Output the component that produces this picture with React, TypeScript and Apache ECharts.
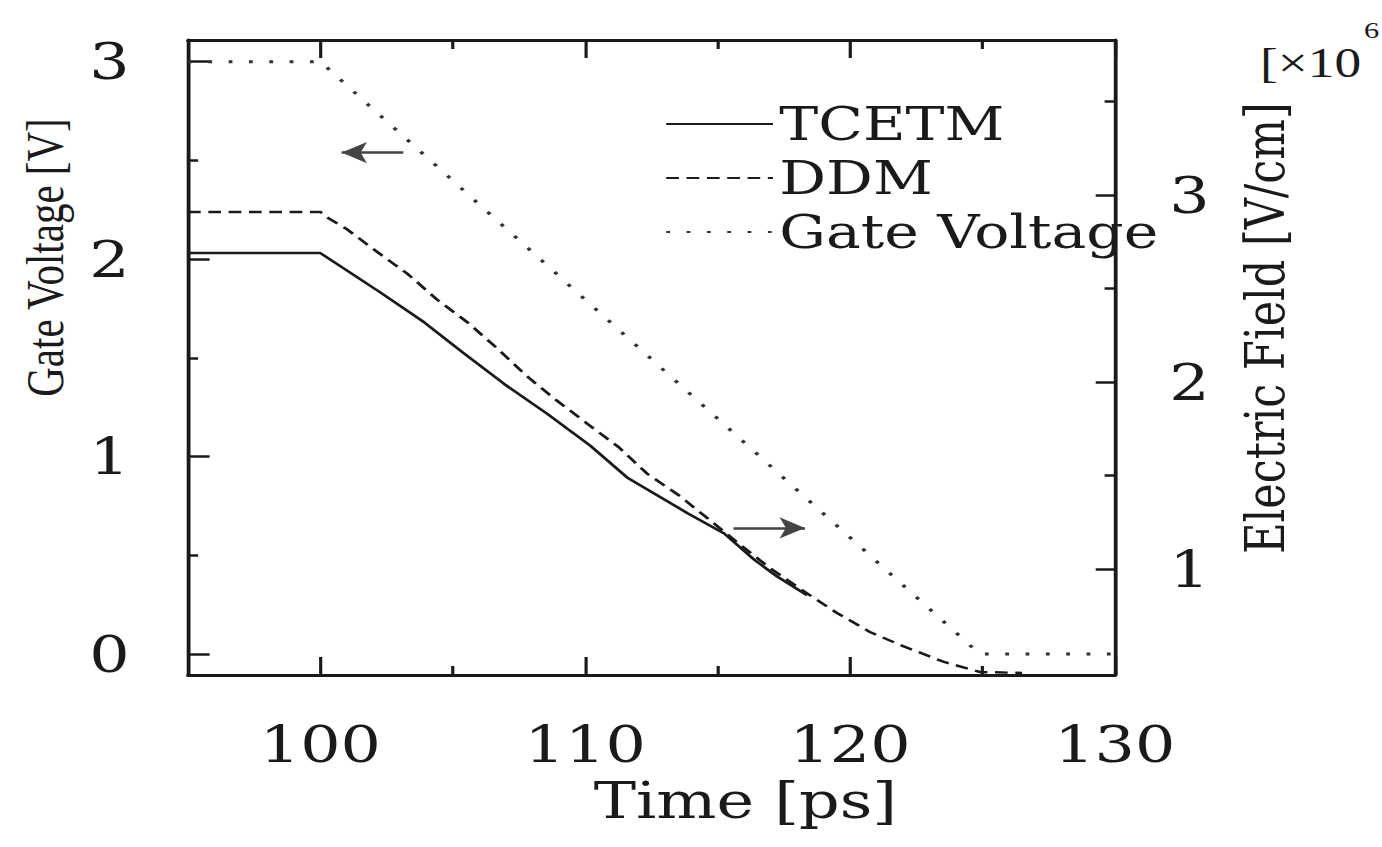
import React, { useEffect, useRef } from "react";
import * as echarts from "echarts";

// The scanned original is stretched horizontally; the whole chart is drawn
// narrower and widened with a CSS scaleX so glyph proportions match.
const STRETCH = 1.27;
const PAGE_W = 1382;
const PAGE_H = 847;

// ---- tick values / labels ----
const timeTicksMajor = [100, 110, 120, 130];
const timeTicksMinor = [105, 115, 125];
const voltTicksMajor = [0, 1, 2, 3];
const voltTicksMinor = [0.5, 1.5, 2.5];
const fieldTicksMajor = [1, 2, 3];
const fieldTicksMinor = [1.5, 2.5, 3.5];

// ---- series (time in ps) ----
const tcetmTime = [95, 100, 102.26, 103.92, 105.36, 106.94, 108.57, 110.19, 111.58, 113.85, 115.25, 116.38, 117.25, 118.38];
const tcetmField = [2.69, 2.69, 2.48, 2.32, 2.16, 1.99, 1.83, 1.66, 1.49, 1.3, 1.19, 1.05, 0.96, 0.86];

const ddmTime = [95, 100, 100.26, 100.98, 102.11, 103.28, 104.42, 105.55, 106.68, 107.81, 108.94, 110.15, 111.28, 112.34, 113.58, 114.72, 115.85, 116.98, 118.3, 119.51, 120.75, 122.08, 123.55, 124.91, 126.5];
const ddmField = [2.91, 2.91, 2.88, 2.82, 2.7, 2.58, 2.44, 2.32, 2.18, 2.03, 1.9, 1.77, 1.65, 1.51, 1.39, 1.26, 1.13, 1.005, 0.877, 0.765, 0.663, 0.583, 0.503, 0.449, 0.444];

const gateTime = [95, 100, 124.9, 130];
const gateVoltage = [3, 3, 0, 0];

// arrows: [time, value] start -> end
const leftArrow = [[103.13, 2.54], [100.8, 2.54]];
const rightArrow = [[115.6, 1.22], [118.3, 1.22]];

const zip = (xs: number[], ys: number[]) => xs.map((x, i) => [x, ys[i]]);

const FONT = "DejaVu Serif";
const INK = "#1a1a1a";

export default function App() {
  const ref = useRef<HTMLDivElement>(null);

  useEffect(() => {
    if (!ref.current) return;
    const chart = echarts.init(ref.current, undefined, { renderer: "svg" });
    const W = PAGE_W / STRETCH;
    const gridLeft = 188 / STRETCH;
    const gridRight = W - 1115 / STRETCH;
    const grid = { left: gridLeft, right: gridRight, top: 40, bottom: PAGE_H - 675, containLabel: false };

    const lineAx = { show: true, onZero: false, lineStyle: { color: INK, width: 3 } };
    const noLine = { show: false, onZero: false };
    const label = (vals: number[], margin: number) => ({
      show: true,
      customValues: vals,
      margin,
      fontFamily: FONT,
      fontSize: 50,
      color: INK,
    });
    const tick = (vals: number[], len: number) => ({
      show: true,
      inside: true,
      customValues: vals,
      length: len,
      lineStyle: { color: INK, width: 2.5 },
    });

    chart.setOption({
      animation: false,
      backgroundColor: "#ffffff",
      grid: [grid, { ...grid }],
      legend: {
        orient: "vertical",
        left: 665 / STRETCH,
        top: 101,
        padding: 0,
        itemGap: 8,
        itemWidth: 84,
        itemHeight: 2,
        selectedMode: false,
        itemStyle: { opacity: 0 },
        textStyle: { fontFamily: FONT, fontSize: 46, color: INK },
        data: ["TCETM", "DDM", "Gate Voltage"],
      },
      xAxis: [
        {
          type: "value", gridIndex: 0, position: "bottom", min: 95, max: 130,
          axisLine: lineAx, axisTick: tick(timeTicksMajor, 18), axisLabel: label(timeTicksMajor, 44),
          splitLine: { show: false },
          name: "Time [ps]", nameLocation: "middle", nameGap: 100,
          nameTextStyle: { fontFamily: FONT, fontSize: 50, color: INK, padding: [0, 0, 0, 148] },
        },
        {
          type: "value", gridIndex: 0, position: "top", min: 95, max: 130,
          axisLine: lineAx, axisTick: tick(timeTicksMajor, 18), axisLabel: { show: false },
          splitLine: { show: false },
        },
        {
          type: "value", gridIndex: 1, position: "bottom", min: 95, max: 130,
          axisLine: noLine, axisTick: tick(timeTicksMinor, 9), axisLabel: { show: false },
          splitLine: { show: false },
        },
        {
          type: "value", gridIndex: 1, position: "top", min: 95, max: 130,
          axisLine: noLine, axisTick: tick(timeTicksMinor, 9), axisLabel: { show: false },
          splitLine: { show: false },
        },
      ],
      yAxis: [
        {
          type: "value", gridIndex: 0, position: "left", min: -0.106, max: 3.11,
          axisLine: lineAx, axisTick: tick(voltTicksMajor, 17), axisLabel: label(voltTicksMajor, 46),
          splitLine: { show: false },
          name: "Gate Voltage [V]", nameLocation: "middle", nameRotate: 90, nameGap: 92,
          nameTextStyle: { fontFamily: "Liberation Serif", fontSize: 41, color: INK, padding: [0, 0, 0, 200] },
        },
        {
          type: "value", gridIndex: 0, position: "right", min: 0.433, max: 3.83,
          axisLine: lineAx, axisTick: tick(fieldTicksMajor, 15), axisLabel: label(fieldTicksMajor, 43),
          splitLine: { show: false },
          name: "Electric Field [V/cm]", nameLocation: "middle", nameRotate: 90, nameGap: 97,
          nameTextStyle: { fontFamily: FONT, fontSize: 43, color: INK, padding: [0, 0, 0, 59] },
        },
        {
          type: "value", gridIndex: 1, position: "left", min: -0.106, max: 3.11,
          axisLine: noLine, axisTick: tick(voltTicksMinor, 8), axisLabel: { show: false },
          splitLine: { show: false },
        },
        {
          type: "value", gridIndex: 1, position: "right", min: 0.433, max: 3.83,
          axisLine: noLine, axisTick: tick(fieldTicksMinor, 8), axisLabel: { show: false },
          splitLine: { show: false },
        },
      ],
      graphic: [
        {
          type: "text",
          left: 1260 / STRETCH,
          top: 42,
          style: { text: "[×10", fontFamily: "Liberation Serif", fontSize: 42, fill: INK },
        },
        {
          type: "text",
          left: 1364 / STRETCH,
          top: 18,
          style: { text: "6", fontFamily: "Liberation Serif", fontSize: 24, fill: INK },
        },
      ],
      series: [
        {
          name: "TCETM", type: "line", xAxisIndex: 0, yAxisIndex: 1,
          data: zip(tcetmTime, tcetmField),
          symbol: "none", showSymbol: false,
          lineStyle: { color: INK, width: 2.5, type: "solid" },
          itemStyle: { color: INK },
          markLine: {
            silent: true, symbol: ["none", "arrow"], symbolSize: [16, 20],
            label: { show: false },
            lineStyle: { type: "solid", color: "#444", width: 2.5 },
            data: [[{ coord: rightArrow[0] }, { coord: rightArrow[1] }]],
          },
        },
        {
          name: "DDM", type: "line", xAxisIndex: 0, yAxisIndex: 1,
          data: zip(ddmTime, ddmField),
          symbol: "none", showSymbol: false,
          lineStyle: { color: INK, width: 2.5, type: [10, 6] },
          itemStyle: { color: INK },
        },
        {
          name: "Gate Voltage", type: "line", xAxisIndex: 0, yAxisIndex: 0,
          data: zip(gateTime, gateVoltage),
          symbol: "none", showSymbol: false,
          lineStyle: { color: "#333", width: 3, type: [3, 13] },
          itemStyle: { color: "#333" },
          markLine: {
            silent: true, symbol: ["none", "arrow"], symbolSize: [16, 20],
            label: { show: false },
            lineStyle: { type: "solid", color: "#444", width: 2.5 },
            data: [[{ coord: leftArrow[0] }, { coord: leftArrow[1] }]],
          },
        },
      ],
    });
    return () => chart.dispose();
  }, []);

  return (
    <div
      ref={ref}
      style={{
        position: "absolute",
        left: 0,
        top: 0,
        width: PAGE_W / STRETCH,
        height: PAGE_H,
        transform: `scaleX(${STRETCH})`,
        transformOrigin: "0 0",
        background: "#fff",
      }}
    />
  );
}
